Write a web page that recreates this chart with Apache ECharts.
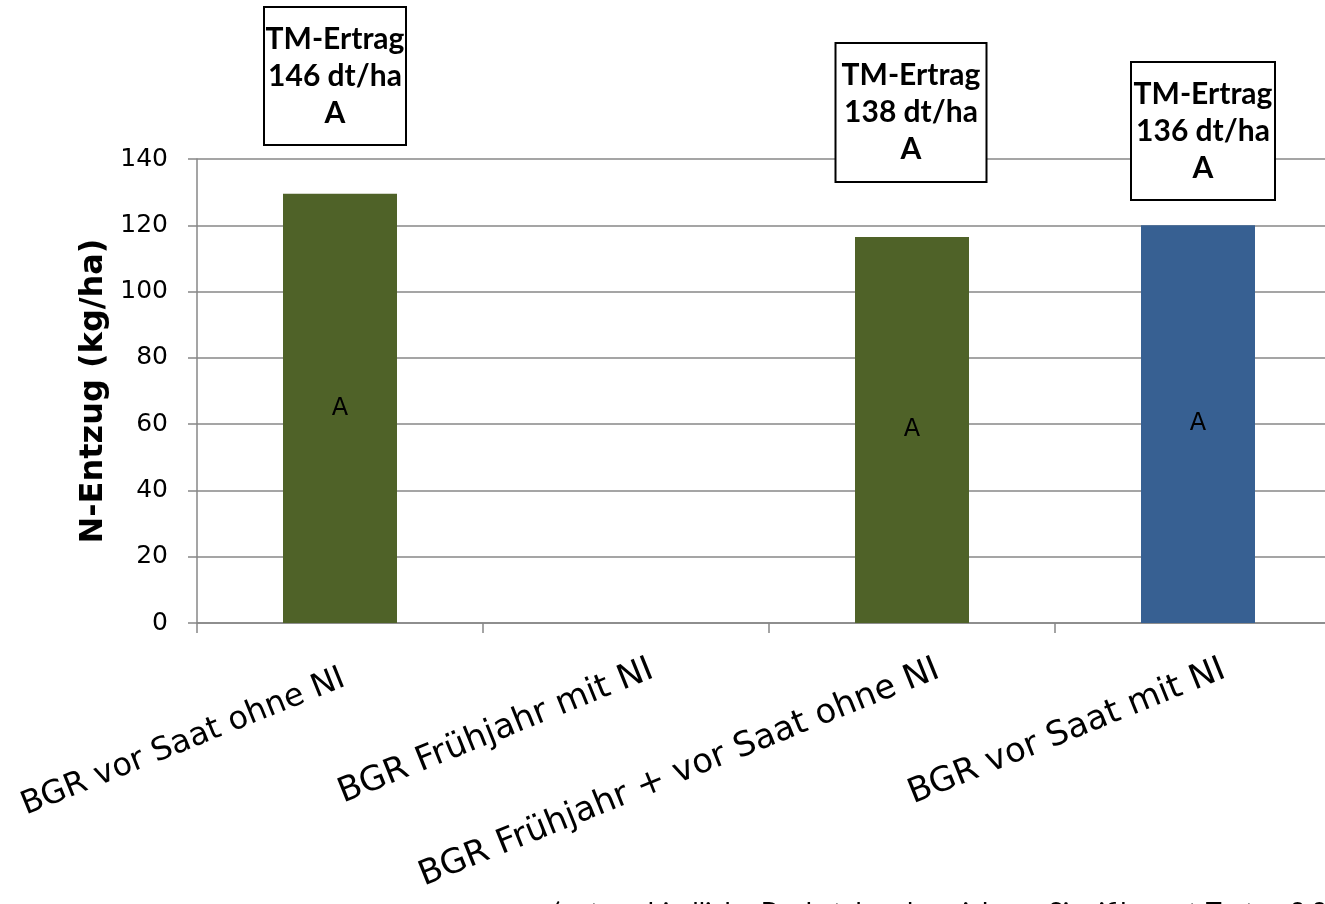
<!DOCTYPE html>
<html>
<head>
<meta charset="utf-8">
<script src="https://cdn.jsdelivr.net/npm/echarts@6/dist/echarts.min.js"></script>
<style>
  html, body { margin: 0; padding: 0; background: #fff; overflow: hidden; }
  #chart { width: 1341px; height: 904px; }
</style>
</head>
<body>
<div id="chart"></div>
<script>
// Treatments (categories) and measured N removal in kg/ha
const categories = [
  'BGR vor Saat ohne NI',
  'BGR Frühjahr mit NI',
  'BGR Frühjahr + vor Saat ohne NI',
  'BGR vor Saat mit NI'
];
const nEntzug = [129.5, null, 116.5, 120];
const barLetters = ['A', '', 'A', 'A'];
const barColors = ['#4F6228', '#4F6228', '#4F6228', '#376092'];

// Dry-matter yield annotations
const tmErtrag = ['146 dt/ha', '', '138 dt/ha', '136 dt/ha'];
const tmLetters = ['A', '', 'A', 'A'];

const yTicks = [0, 20, 40, 60, 80, 100, 120, 140];
const footnote = '(unterschiedliche Buchstaben bezeichnen Signifikanz, t-Test, < 0,05)';

const chart = echarts.init(document.getElementById('chart'), null, { renderer: 'canvas' });

const gray = '#878787';

// Annotation boxes above bars: [centerX, top, width, height]
const boxLayout = [
  [335, 7, 142, 138],
  null,
  [911, 43, 151, 139],
  [1203, 62, 144, 138]
];

const graphics = [];
boxLayout.forEach((b, i) => {
  if (!b || !tmErtrag[i]) return;
  const [cx, top, w, h] = b;
  graphics.push({
    type: 'rect',
    shape: { x: cx - w / 2, y: top, width: w, height: h },
    style: { fill: '#fff', stroke: '#000', lineWidth: 2 },
    z: 10
  });
  graphics.push({
    type: 'text',
    x: cx,
    y: top + h / 2,
    style: {
      text: 'TM-Ertrag\n' + tmErtrag[i] + '\n' + tmLetters[i],
      fontFamily: 'Lato',
      fontWeight: 'bold',
      fontSize: 30,
      lineHeight: 37,
      fill: '#000',
      align: 'center',
      verticalAlign: 'middle'
    },
    z: 11
  });
});
graphics.push({
  type: 'text',
  x: 553,
  y: 900,
  style: {
    text: footnote,
    fontFamily: 'Lato',
    fontSize: 27,
    fill: '#000',
    align: 'left',
    verticalAlign: 'top'
  }
});

// Rotated category labels; the first one is kept inside the left edge
const labelStyle = [
  { padding: [0, -4, 0, 0], fontSize: 32 },
  { padding: [0, -28, 0, 0] },
  { padding: [0, -28, 0, 0] },
  { padding: [0, -28, 0, 0] }
];

chart.setOption({
  animation: false,
  backgroundColor: '#fff',
  grid: {
    left: 197, top: 159, right: 0, height: 464,
    containLabel: false,
    outerBoundsMode: 'none'
  },
  xAxis: {
    type: 'category',
    data: categories.map((c, i) => ({ value: c, textStyle: labelStyle[i] })),
    boundaryGap: true,
    axisLine: { lineStyle: { color: gray, width: 1.5 } },
    axisTick: { show: true, interval: 0, length: 10, lineStyle: { color: gray, width: 1.5 } },
    axisLabel: {
      interval: 0,
      rotate: 22,
      margin: 56,
      fontFamily: 'DejaVu Sans',
      fontSize: 34,
      color: '#000',
      hideOverlap: false
    }
  },
  yAxis: {
    type: 'value',
    min: yTicks[0],
    max: yTicks[yTicks.length - 1],
    interval: 20,
    name: 'N-Entzug (kg/ha)',
    nameLocation: 'middle',
    nameGap: 80,
    nameTextStyle: { fontFamily: 'DejaVu Sans', fontWeight: 'bold', fontSize: 32, color: '#000' },
    axisLine: { show: true, lineStyle: { color: gray, width: 1.5 } },
    axisTick: { show: true, length: 9, lineStyle: { color: gray, width: 1.5 } },
    axisLabel: { margin: 29, fontFamily: 'DejaVu Sans', fontSize: 25, color: '#000' },
    splitLine: { lineStyle: { color: gray, width: 1.5 } }
  },
  series: [{
    type: 'bar',
    barWidth: 114,
    data: nEntzug.map((v, i) => ({ value: v, itemStyle: { color: barColors[i] } })),
    label: {
      show: true,
      position: 'inside',
      fontFamily: 'DejaVu Sans',
      fontSize: 24,
      color: '#000',
      formatter: p => barLetters[p.dataIndex]
    }
  }],
  graphic: graphics
});
</script>
</body>
</html>
